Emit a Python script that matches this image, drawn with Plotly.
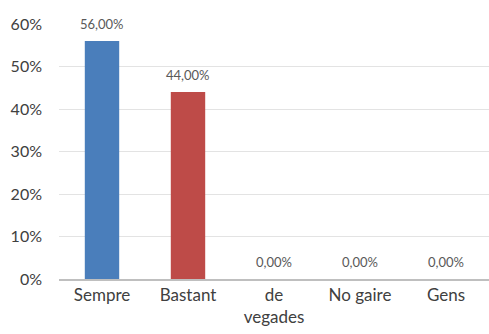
import plotly.graph_objects as go

categories = ["Sempre", "Bastant", "de<br>vegades", "No gaire", "Gens"]
values = [0.56, 0.44, 0.0, 0.0, 0.0]
colors = ["#4A7EBB", "#BE4B48", "#4A7EBB", "#4A7EBB", "#4A7EBB"]
y_ticks = [0, 0.1, 0.2, 0.3, 0.4, 0.5, 0.6]

fig = go.Figure(go.Bar(
    x=categories, y=values,
    marker=dict(color=colors, line=dict(width=0)),
    width=0.4,
    hoverinfo="skip",
))
for c, v in zip(categories, values):
    fig.add_annotation(
        x=c, y=v, text=f"{v*100:.2f}%".replace(".", ","),
        showarrow=False, yanchor="bottom", yshift=7,
        font=dict(family="Lato", size=13, color="#595959"),
    )
fig.update_layout(
    width=489, height=334,
    margin=dict(l=59, r=0, t=24, b=55),
    paper_bgcolor="white", plot_bgcolor="white",
    separators=",.",
    showlegend=False,
    bargap=0.6,
    font=dict(family="Lato", color="#404040"),
)
fig.update_yaxes(range=[0, 0.6], tickvals=y_ticks, tickformat=".0%",
                 showgrid=True, gridcolor="#E3E3E3", gridwidth=1,
                 zeroline=False, showline=False, ticks="",
                 tickfont=dict(size=16, color="#404040"), ticklabelstandoff=16)
fig.update_xaxes(showline=True, linecolor="#BFBFBF", linewidth=1.5, ticks="",
                 tickfont=dict(size=17, color="#404040"))
fig.write_html("out.html")
